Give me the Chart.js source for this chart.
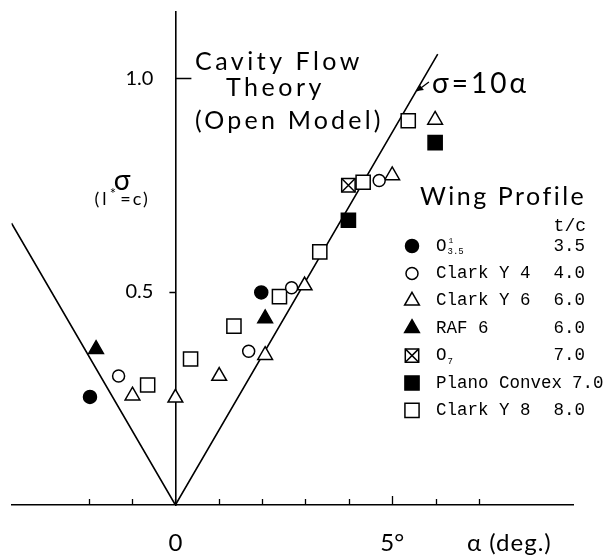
<!DOCTYPE html>
<html>
<head>
<meta charset="utf-8">
<script src="https://cdn.jsdelivr.net/npm/chart.js@4.4.0/dist/chart.umd.min.js"></script>
<style>
  html, body { margin: 0; background: #fff; }
  canvas { display: block; }
</style>
</head>
<body>
<canvas id="chart" width="608" height="556"></canvas>
<script>
// angle of attack (deg) and cavitation number for each wing profile
const o35Alpha = [-1.97, 1.98];
const o35Sigma = [0.253, 0.498];
const clarkY4Alpha = [-1.31, 1.69, 2.68, 4.70];
const clarkY4Sigma = [0.302, 0.360, 0.509, 0.760];
const clarkY6Alpha = [-0.99, 0.00, 1.01, 2.07, 2.98, 5.00, 5.99];
const clarkY6Sigma = [0.256, 0.251, 0.302, 0.351, 0.514, 0.772, 0.902];
const raf6Alpha = [-1.83, 2.07];
const raf6Sigma = [0.365, 0.437];
const o7Alpha = [3.99];
const o7Sigma = [0.749];
const planoAlpha = [3.99, 5.99];
const planoSigma = [0.667, 0.849];
const clarkY8Alpha = [-0.64, 0.35, 1.35, 2.40, 3.33, 4.33, 5.37];
const clarkY8Sigma = [0.281, 0.342, 0.419, 0.488, 0.593, 0.756, 0.900];

// open-model theory, sigma = 10 * |alpha| (alpha in rad)
const theoryAlpha = [-3.78, 0, 6.05];
const theorySigma = [0.66, 0, 1.056];

const xTicks = [-2, -1, 0, 1, 2, 3, 4, 5, 6, 7];
const xTickLabels = { 0: '0', 5: '5°' };
const yTicks = [0.5, 1.0];
const yTickLabels = ['0.5', '1.0'];

const profileNames = ['O', 'Clark Y 4', 'Clark Y 6', 'RAF 6', 'O', 'Plano Convex', 'Clark Y 8'];
const profileSups = ['1', '', '', '', '', '', ''];
const profileSubs = ['3.5', '', '', '', '7', '', ''];
const thickness = ['3.5', '4.0', '6.0', '6.0', '7.0', '7.0', '8.0'];

const seriesAlpha = [o35Alpha, clarkY4Alpha, clarkY6Alpha, raf6Alpha, o7Alpha, planoAlpha, clarkY8Alpha];
const seriesSigma = [o35Sigma, clarkY4Sigma, clarkY6Sigma, raf6Sigma, o7Sigma, planoSigma, clarkY8Sigma];

const markers = [
  { pointStyle: 'circle', radius: 6.5, fill: '#000' },
  { pointStyle: 'circle', radius: 6, fill: '#fff' },
  { pointStyle: 'triangle', radius: 8.5, fill: '#fff' },
  { pointStyle: 'triangle', radius: 8.5, fill: '#000' },
  { pointStyle: 'rect', radius: 9.5, fill: '#fff', cross: true },
  { pointStyle: 'rect', radius: 10, fill: '#000' },
  { pointStyle: 'rect', radius: 10, fill: '#fff' }
];

const toPoints = (xs, ys) => xs.map((x, i) => ({ x: x, y: ys[i] }));

const datasets = [{
  data: toPoints(theoryAlpha, theorySigma),
  showLine: true,
  borderColor: '#000',
  borderWidth: 1.6,
  pointRadius: 0,
  order: 10
}];

seriesAlpha.forEach((xs, i) => {
  const m = markers[i];
  datasets.push({
    data: toPoints(xs, seriesSigma[i]),
    pointStyle: m.pointStyle,
    pointRadius: m.radius,
    pointBackgroundColor: m.fill,
    pointBorderColor: '#000',
    pointBorderWidth: 1.5,
    order: 1
  });
  if (m.cross) {
    datasets.push({
      data: toPoints(xs, seriesSigma[i]),
      pointStyle: 'crossRot',
      pointRadius: m.radius,
      pointBorderColor: '#000',
      pointBorderWidth: 1.5,
      order: 0
    });
  }
});

const lightFont = '"Lato", "DejaVu Sans", sans-serif';
const monoFont = '"Liberation Mono", "DejaVu Sans Mono", monospace';

function marker(ctx, m, x, y) {
  ctx.save();
  ctx.fillStyle = m.fill;
  ctx.strokeStyle = '#000';
  ctx.lineWidth = 1.5;
  Chart.helpers.drawPoint(ctx, { pointStyle: m.pointStyle, radius: m.radius, rotation: 0, borderWidth: 1.5 }, x, y);
  if (m.cross) {
    Chart.helpers.drawPoint(ctx, { pointStyle: 'crossRot', radius: m.radius, rotation: 0, borderWidth: 1.5 }, x, y);
  }
  ctx.restore();
}

function text(ctx, str, x, y, font, align, spacing) {
  ctx.font = font;
  ctx.textAlign = align || 'left';
  ctx.letterSpacing = (spacing || 0) + 'px';
  ctx.fillText(str, x, y);
  ctx.letterSpacing = '0px';
}

// keep the centred axes from claiming any room of their own
function noRoom(s) {
  if (s.isHorizontal()) s.height = 0; else s.width = 0;
  s.paddingTop = s.paddingBottom = s.paddingLeft = s.paddingRight = 0;
}

const annotations = {
  id: 'annotations',
  afterDraw(chart) {
    const ctx = chart.ctx;
    const xs = chart.scales.x, ys = chart.scales.y;
    const x0 = xs.getPixelForValue(0), y0 = ys.getPixelForValue(0);
    ctx.save();
    ctx.fillStyle = '#000';
    ctx.strokeStyle = '#000';
    ctx.textBaseline = 'alphabetic';

    // tick marks: alpha ticks point up, the 5 deg one is longer
    ctx.lineWidth = 1.3;
    ctx.beginPath();
    xTicks.forEach(v => {
      const px = Math.round(xs.getPixelForValue(v)) + 0.5;
      ctx.moveTo(px, y0);
      ctx.lineTo(px, y0 - (v === 5 ? 9 : 6));
    });
    yTicks.forEach((v, i) => {
      const py = Math.round(ys.getPixelForValue(v)) + 0.5;
      ctx.moveTo(x0, py);
      ctx.lineTo(i === 0 ? x0 - 6 : x0 + 16, py);
    });
    ctx.stroke();

    // sigma tick labels
    ctx.textBaseline = 'middle';
    yTicks.forEach((v, i) => {
      text(ctx, yTickLabels[i], x0 - 22, ys.getPixelForValue(v), '20px ' + lightFont, 'right');
    });
    ctx.textBaseline = 'alphabetic';

    // theory caption
    text(ctx, 'Cavity Flow', 195, 70, '25px ' + lightFont, 'left', 3.5);
    text(ctx, 'Theory', 226, 96, '25px ' + lightFont, 'left', 3.5);
    text(ctx, '(Open Model)', 195, 129, '25px ' + lightFont, 'left', 3.2);

    // sigma = 10 alpha with arrow onto the line
    text(ctx, 'σ=10α', 432, 93, '28px ' + lightFont, 'left', 3);
    const tipX = xs.getPixelForValue(5.57), tipY = ys.getPixelForValue(0.97);
    ctx.lineWidth = 1.3;
    ctx.beginPath();
    ctx.moveTo(tipX + 12, tipY - 9);
    ctx.lineTo(tipX, tipY);
    ctx.stroke();
    ctx.beginPath();
    ctx.moveTo(tipX, tipY);
    ctx.lineTo(tipX + 7, tipY - 1);
    ctx.lineTo(tipX + 3, tipY - 6);
    ctx.closePath();
    ctx.fill();

    // axis captions
    text(ctx, 'σ', 122, 190, '28px ' + lightFont, 'center');
    text(ctx, '(l', 102, 205, '18px ' + lightFont, 'center', 3);
    text(ctx, '*', 113, 199, '15px ' + lightFont, 'center');
    text(ctx, '=c)', 135, 205, '18px ' + lightFont, 'center', 2);
    text(ctx, 'α (deg.)', 467, 551, '24px ' + lightFont, 'left', 1);

    // wing profile legend
    text(ctx, 'Wing Profile', 420, 205, '25px ' + lightFont, 'left', 2.5);
    text(ctx, 't/c', 586, 231, '18px ' + monoFont, 'right');
    profileNames.forEach((name, i) => {
      const y = 246 + i * 27.4;
      marker(ctx, markers[i], 412, y);
      ctx.textBaseline = 'middle';
      text(ctx, name, 436, y, '17.5px ' + monoFont, 'left');
      const end = 436 + ctx.measureText(name).width;
      if (profileSubs[i]) {
        text(ctx, profileSubs[i], end + 1, y + 6, '9px ' + monoFont, 'left');
      }
      if (profileSups[i]) {
        text(ctx, profileSups[i], end + 2, y - 5, '8px ' + monoFont, 'left');
      }
      ctx.font = '17.5px ' + monoFont;
      const w = ctx.measureText(thickness[i]).width;
      const vx = Math.max(585 - w, end + 10);
      text(ctx, thickness[i], vx, y, '17.5px ' + monoFont, 'left');
      ctx.textBaseline = 'alphabetic';
    });
    ctx.restore();
  }
};

new Chart(document.getElementById('chart'), {
  type: 'scatter',
  data: { datasets: datasets },
  options: {
    responsive: false,
    animation: false,
    layout: { padding: { left: 8, right: 35, top: 8, bottom: 51 } },
    plugins: { legend: { display: false }, tooltip: { enabled: false } },
    scales: {
      x: {
        type: 'linear',
        min: -3.78,
        max: 9.17,
        position: { y: 0 },
        afterFit: noRoom,
        afterBuildTicks: s => { s.ticks = xTicks.map(v => ({ value: v })); },
        grid: { drawOnChartArea: false, drawTicks: false },
        border: { display: true, color: '#000', width: 1.6 },
        ticks: {
          autoSkip: false,
          maxRotation: 0,
          padding: 24,
          color: '#000',
          font: { family: lightFont, size: 24 },
          callback: v => xTickLabels[v] || ''
        }
      },
      y: {
        type: 'linear',
        min: 0,
        max: 1.156,
        position: { x: 0 },
        afterFit: noRoom,
        afterBuildTicks: s => { s.ticks = yTicks.map(v => ({ value: v })); },
        grid: { drawOnChartArea: false, drawTicks: false },
        border: { display: true, color: '#000', width: 1.6 },
        ticks: { display: false }
      }
    }
  },
  plugins: [annotations]
});
</script>
</body>
</html>
